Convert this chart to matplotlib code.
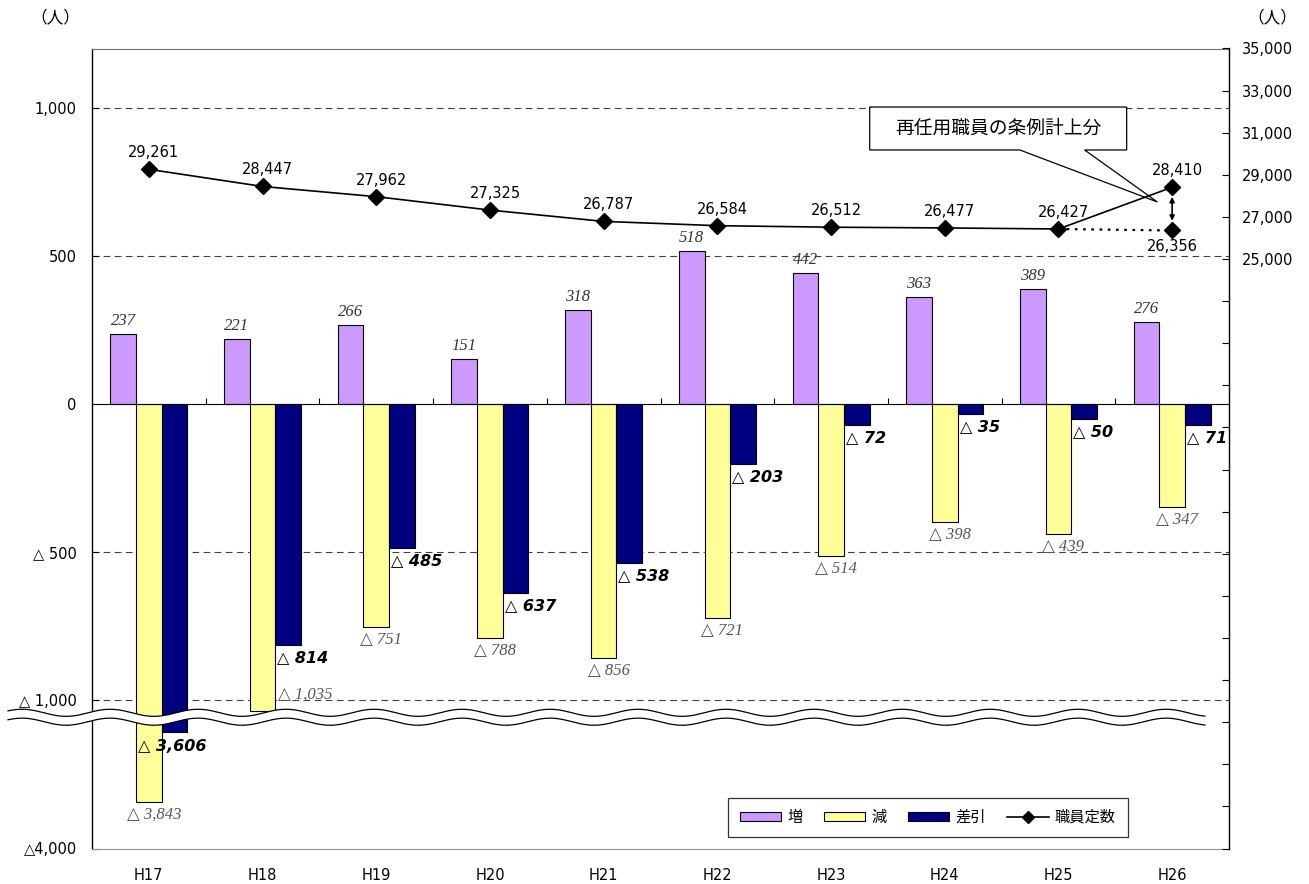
import numpy as np
import matplotlib
matplotlib.use('Agg')
import matplotlib.pyplot as plt
import matplotlib.transforms as mtransforms
from matplotlib.patches import Patch, Polygon
from matplotlib.lines import Line2D

plt.rcParams['font.family'] = ['DejaVu Sans', 'Noto Sans CJK JP']

# data
years = ['H17', 'H18', 'H19', 'H20', 'H21', 'H22', 'H23', 'H24', 'H25', 'H26']
increase = [237, 221, 266, 151, 318, 518, 442, 363, 389, 276]
decrease = [3843, 1035, 751, 788, 856, 721, 514, 398, 439, 347]
net = [3606, 814, 485, 637, 538, 203, 72, 35, 50, 71]
staff = [29261, 28447, 27962, 27325, 26787, 26584, 26512, 26477, 26427, 28410]
staff_h26_excl = 26356  # 再任用職員を除いた H26

BREAK_SHIFT = 2500   # lower part of the broken axis is moved up by this much
BREAK_AT = -1057     # centre of the wavy break


def to_axis(v):
    return v + BREAK_SHIFT if v < -2000 else v


def tri(v):
    return f'△ {v:,}'


fig = plt.figure(figsize=(13.09, 8.84), dpi=100)
ax = fig.add_axes([92 / 1309, 1 - 848.5 / 884, 1137 / 1309, 800 / 884])
ax2 = ax.twinx()

x = np.arange(len(years))
w = 0.226
c_inc, c_dec, c_net = '#CC99FF', '#FFFF99', '#000080'

inc_y = [to_axis(v) for v in increase]
dec_y = [to_axis(-v) for v in decrease]
net_y = [to_axis(-v) for v in net]

ax.bar(x - w, inc_y, w, color=c_inc, edgecolor='black', lw=0.8, zorder=3)
ax.bar(x, dec_y, w, color=c_dec, edgecolor='black', lw=0.8, zorder=3)
ax.bar(x + w, net_y, w, color=c_net, edgecolor='black', lw=0.8, zorder=3)

serif = ['Liberation Serif', 'DejaVu Sans']
for xi, v, yv in zip(x, increase, inc_y):
    ax.annotate(str(v), (xi - w, yv), xytext=(0, 5), textcoords='offset pixels',
                ha='center', va='bottom', fontsize=12, fontstyle='italic',
                family=serif, color='#333333')

for xi, v, yv in zip(x, decrease, dec_y):
    if 1000 < v < 1100:
        # would hit the break, so put it beside the bar
        ax.annotate(tri(v), (xi + w / 2, yv), xytext=(3, 16), textcoords='offset pixels',
                    ha='left', va='center', fontsize=12, fontstyle='italic',
                    family=serif, color='#555555')
    else:
        ax.annotate(tri(v), (xi, yv), xytext=(5, -5), textcoords='offset pixels',
                    ha='center', va='top', fontsize=12, fontstyle='italic',
                    family=serif, color='#555555')

for xi, v, yv in zip(x, net, net_y):
    if v > 2000:
        ax.annotate(tri(v), (xi + w, yv), xytext=(-2, -7), textcoords='offset pixels',
                    ha='center', va='top', fontsize=11.5, fontweight='bold',
                    fontstyle='italic', color='black')
    else:
        ax.annotate(tri(v), (xi + w / 2, yv), xytext=(2, -5), textcoords='offset pixels',
                    ha='left', va='top', fontsize=11.5, fontweight='bold',
                    fontstyle='italic', color='black')

# zero line, category marks and dashed grid
ax.axhline(0, color='black', lw=0.8, zorder=4)
ax.vlines(x[:-1] + 0.5, 0, 22, color='black', lw=0.8, zorder=4)
for g in [1000, 500, -500, -1000]:
    ax.axhline(g, color='#404040', lw=0.8, ls=(0, (6, 4)), zorder=1)

ax.set_xlim(-0.5, 9.5)
ax.set_ylim(-1500, 1200)
left_ticks = [1000, 500, 0, -500, -1000, -4000]
ax.set_yticks([to_axis(t) for t in left_ticks])
ax.set_yticklabels(['1,000', '500', '0', '△ 500', '△ 1,000', '△4,000'])
ax.tick_params(axis='y', direction='in', length=5, pad=11, labelsize=10.5)
ax.set_xticks(x, years)
ax.tick_params(axis='x', length=0, pad=14, labelsize=10.5)
ax.spines['right'].set_visible(False)
ax.spines['top'].set_color('#707070')
ax.spines['bottom'].set_color('#909090')
ax.spines['left'].set_linewidth(1.0)

# staff line on right axis
ax2.plot(x, staff, color='black', lw=1.2, marker='D', ms=8, zorder=6)
ax2.plot([x[-2], x[-1]], [staff[-2], staff_h26_excl], color='black', lw=1.6,
         ls=(0, (1.2, 2.5)), zorder=6)
ax2.plot([x[-1]], [staff_h26_excl], color='black', marker='D', ms=8, ls='none', zorder=6)
for xi, v in zip(x, staff):
    ax2.annotate(f'{v:,}', (xi, v), xytext=(5, 9), textcoords='offset pixels',
                 ha='center', va='bottom', fontsize=10.5)
ax2.annotate(f'{staff_h26_excl:,}', (x[-1], staff_h26_excl), xytext=(0, -9),
             textcoords='offset pixels', ha='center', va='top', fontsize=10.5)
ax2.annotate('', xy=(x[-1], staff[-1]), xytext=(x[-1], staff_h26_excl),
             arrowprops=dict(arrowstyle='<|-|>', color='black', lw=1.2,
                             shrinkA=7, shrinkB=7, mutation_scale=7))

ax2.set_ylim(-3000, 35000)
rt = list(range(-3000, 35001, 2000))
ax2.set_yticks(rt)
ax2.set_yticklabels([f'{t:,}' if t >= 25000 else '' for t in rt])
ax2.tick_params(axis='y', direction='in', length=5, pad=9, labelsize=10.5)
for s in ['left', 'top', 'bottom']:
    ax2.spines[s].set_visible(False)
ax2.spines['right'].set_linewidth(1.0)

# callout box
callout = Polygon([(6.34, 32220), (8.60, 32220), (8.60, 30180), (8.23, 30180),
                   (8.87, 27710), (7.66, 30180), (6.34, 30180)], closed=True,
                  facecolor='white', edgecolor='black', lw=0.9, zorder=4)
ax2.add_patch(callout)
ax2.text(7.47, 31200, '再任用職員の条例計上分', ha='center', va='center',
         fontsize=13.5, family='Noto Sans CJK JP', zorder=5)

# wavy break band
bt = mtransforms.blended_transform_factory(fig.transFigure, ax.transData)
xs = np.linspace(8 / 1309, 1205 / 1309, 600)
wave = 12 * np.sin(2 * np.pi * xs * 1309 / 88)
up = BREAK_AT + 15 + wave
lo = BREAK_AT - 15 + wave
band = Polygon(np.column_stack([np.r_[xs, xs[::-1]], np.r_[up, lo[::-1]]]),
               closed=True, facecolor='white', edgecolor='none', transform=bt,
               clip_on=False, zorder=10)
ax.add_patch(band)
ax.plot(xs, up, transform=bt, clip_on=False, color='black', lw=0.9, zorder=11)
ax.plot(xs, lo, transform=bt, clip_on=False, color='black', lw=0.9, zorder=11)

# legend
handles = [Patch(facecolor=c_inc, edgecolor='black', lw=0.8),
           Patch(facecolor=c_dec, edgecolor='black', lw=0.8),
           Patch(facecolor=c_net, edgecolor='black', lw=0.8),
           Line2D([], [], color='black', lw=1.2, marker='D', ms=6)]
leg = ax2.legend(handles, ['増', '減', '差引', '職員定数'], ncol=4, loc='center',
                 bbox_to_anchor=(928 / 1309, 1 - 817.5 / 884),
                 bbox_transform=fig.transFigure, fontsize=11, frameon=True,
                 fancybox=False, edgecolor='black', handlelength=2.7,
                 handleheight=0.6, columnspacing=1.4, handletextpad=0.4,
                 borderpad=0.8)
leg.get_frame().set_linewidth(0.9)

fig.text(55 / 1309, 1 - 18 / 884, '（人）', ha='center', va='center', fontsize=12,
         family='Noto Sans CJK JP')
fig.text(1272 / 1309, 1 - 18 / 884, '（人）', ha='center', va='center', fontsize=12,
         family='Noto Sans CJK JP')

fig.savefig('out.png', dpi=100)
